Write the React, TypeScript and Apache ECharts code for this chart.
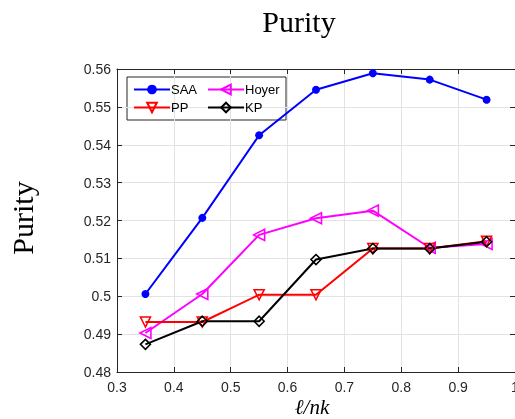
import React, { useEffect, useRef } from "react";
import * as echarts from "echarts";

const xValues = [0.35, 0.45, 0.55, 0.65, 0.75, 0.85, 0.95];
const saa = [0.5006, 0.5207, 0.5425, 0.5545, 0.5589, 0.5572, 0.5519];
const hoyer = [0.4903, 0.5006, 0.5162, 0.5206, 0.5226, 0.5128, 0.5138];
const pp = [0.4932, 0.4932, 0.5004, 0.5004, 0.5126, 0.5126, 0.5145];
const kp = [0.4873, 0.4934, 0.4934, 0.5097, 0.5126, 0.5126, 0.5144];

const pairs = (ys: number[]) => xValues.map((x, i) => [x, ys[i]]);

const AX = "#262626";
const GRID = "#e3e3e3";

export default function App() {
  const ref = useRef<HTMLDivElement>(null);
  useEffect(() => {
    if (!ref.current) return;
    const chart = echarts.init(ref.current, undefined, { renderer: "svg" });
    const tickFont = { color: AX, fontSize: 14, fontFamily: "Liberation Sans, Arial, sans-serif" };
    const hollow = (c: string) => ({ color: "rgba(255,255,255,0)", borderColor: c, borderWidth: 1.6 });
    chart.setOption({
      animation: false,
      grid: { left: 117, right: 0, top: 69, bottom: 47, show: false, containLabel: false, outerBoundsMode: "none" },
      xAxis: [
        {
          type: "value", min: 0.3, max: 1, interval: 0.1,
          axisLine: { show: true, onZero: false, lineStyle: { color: AX, width: 1 } },
          axisTick: { show: true, inside: true, length: 5, lineStyle: { color: AX } },
          axisLabel: { ...tickFont, margin: 8, formatter: (v: number) => String(+v.toFixed(2)) },
          splitLine: { show: true, lineStyle: { color: GRID, width: 1 } },
        },
        {
          type: "value", position: "top", min: 0.3, max: 1, interval: 0.1,
          axisLine: { show: true, onZero: false, lineStyle: { color: AX, width: 1 } },
          axisTick: { show: true, inside: true, length: 5, lineStyle: { color: AX } },
          axisLabel: { show: false }, splitLine: { show: false },
        },
      ],
      yAxis: [
        {
          type: "value", min: 0.48, max: 0.56, interval: 0.01,
          axisLine: { show: true, onZero: false, lineStyle: { color: AX, width: 1 } },
          axisTick: { show: true, inside: true, length: 5, lineStyle: { color: AX } },
          axisLabel: { ...tickFont, margin: 6, formatter: (v: number) => String(+v.toFixed(2)) },
          splitLine: { show: true, lineStyle: { color: GRID, width: 1 } },
        },
        {
          type: "value", position: "right", min: 0.48, max: 0.56, interval: 0.01,
          axisLine: { show: true, onZero: false, lineStyle: { color: AX, width: 1 } },
          axisTick: { show: true, inside: true, length: 5, lineStyle: { color: AX } },
          axisLabel: { show: false }, splitLine: { show: false },
        },
      ],
      legend: [
        {
          orient: "vertical", left: 128, top: 78, itemGap: 5, itemWidth: 36, itemHeight: 12,
          data: ["SAA", "PP"],
          textStyle: { color: "#000", fontSize: 13, fontFamily: "Liberation Sans, Arial, sans-serif", padding: [0, 0, 0, -4] },
        },
        {
          orient: "vertical", left: 202, top: 78, itemGap: 5, itemWidth: 36, itemHeight: 12,
          data: ["Hoyer", "KP"],
          textStyle: { color: "#000", fontSize: 13, fontFamily: "Liberation Sans, Arial, sans-serif", padding: [0, 0, 0, -4] },
        },
      ],
      series: [
        {
          name: "SAA", type: "line", data: pairs(saa), symbol: "circle", symbolSize: 8,
          lineStyle: { color: "#0000ff", width: 2 }, itemStyle: { color: "#0000ff" },
        },
        {
          name: "Hoyer", type: "line", data: pairs(hoyer), symbol: "triangle", symbolRotate: 90, symbolSize: 11,
          lineStyle: { color: "#ff00ff", width: 2 }, itemStyle: hollow("#ff00ff"),
        },
        {
          name: "PP", type: "line", data: pairs(pp), symbol: "triangle", symbolRotate: 180, symbolSize: 10,
          lineStyle: { color: "#ff0000", width: 2 }, itemStyle: hollow("#ff0000"),
        },
        {
          name: "KP", type: "line", data: pairs(kp), symbol: "diamond", symbolSize: 10,
          lineStyle: { color: "#000000", width: 2 }, itemStyle: hollow("#000000"),
        },
      ],
      graphic: [
        {
          type: "rect", shape: { x: 127, y: 77, width: 159, height: 43 },
          style: { fill: "#fff", stroke: AX, lineWidth: 1 }, z: 0, silent: true,
        },
        {
          type: "text", x: 299, y: 21,
          style: { text: "Purity", font: "30px 'Liberation Serif', serif", fill: "#000", textAlign: "center", textVerticalAlign: "middle" },
        },
        {
          type: "text", x: 22, y: 218, rotation: Math.PI / 2,
          style: { text: "Purity", font: "30px 'Liberation Serif', serif", fill: "#000", textAlign: "center", textVerticalAlign: "middle" },
        },
        {
          type: "text", x: 312, y: 407,
          style: { text: "ℓ/nk", font: "italic 21px 'Liberation Serif', serif", fill: "#000", textAlign: "center", textVerticalAlign: "middle" },
        },
      ],
    });
    return () => chart.dispose();
  }, []);
  return <div ref={ref} style={{ position: "fixed", left: 0, top: 0, width: 515, height: 419 }} />;
}
